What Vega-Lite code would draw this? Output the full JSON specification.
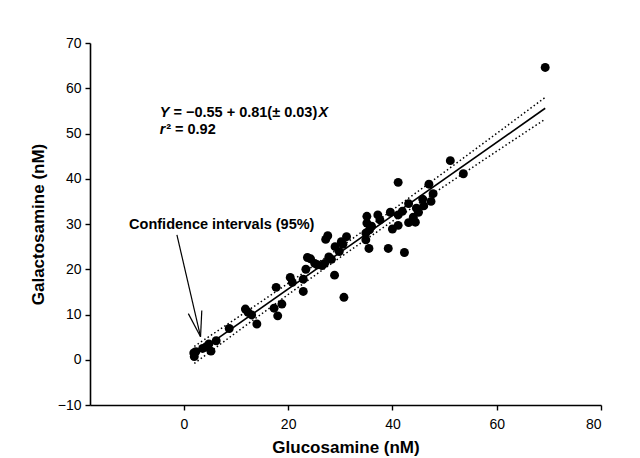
{
  "$schema": "https://vega.github.io/schema/vega-lite/v6.json",
  "width": 511,
  "height": 362,
  "autosize": {"type": "none"},
  "padding": {"left": 90, "top": 43, "right": 39, "bottom": 53},
  "background": "white",
  "config": {
    "view": {"stroke": null},
    "font": "Liberation Sans",
    "axis": {
      "grid": false,
      "domainColor": "black",
      "domainWidth": 1.6,
      "tickColor": "black",
      "tickWidth": 1.4,
      "tickSize": 5,
      "labelColor": "black",
      "labelFont": "Liberation Sans",
      "labelFontSize": 14,
      "titleColor": "black",
      "titleFont": "Liberation Sans",
      "titleFontWeight": "bold"
    }
  },
  "datasets": {
    "pts": [
      {"glc": 69.3, "gal": 64.6}, {"glc": 51.1, "gal": 44.0}, {"glc": 53.6, "gal": 41.1},
      {"glc": 41.1, "gal": 39.2}, {"glc": 47.0, "gal": 38.8}, {"glc": 47.8, "gal": 36.7},
      {"glc": 47.4, "gal": 35.0}, {"glc": 45.8, "gal": 35.5}, {"glc": 43.1, "gal": 34.5},
      {"glc": 44.6, "gal": 33.5}, {"glc": 45.0, "gal": 32.6}, {"glc": 41.9, "gal": 32.8},
      {"glc": 39.6, "gal": 32.6}, {"glc": 37.2, "gal": 32.0}, {"glc": 35.1, "gal": 31.7},
      {"glc": 41.1, "gal": 32.0}, {"glc": 43.1, "gal": 30.3}, {"glc": 44.4, "gal": 30.4},
      {"glc": 40.0, "gal": 28.9}, {"glc": 41.1, "gal": 29.7}, {"glc": 37.6, "gal": 30.9},
      {"glc": 35.1, "gal": 30.2}, {"glc": 35.6, "gal": 28.7}, {"glc": 34.9, "gal": 28.0},
      {"glc": 34.9, "gal": 26.5}, {"glc": 35.5, "gal": 24.6}, {"glc": 39.2, "gal": 24.6},
      {"glc": 42.3, "gal": 23.7}, {"glc": 31.2, "gal": 27.2}, {"glc": 30.2, "gal": 26.1},
      {"glc": 27.6, "gal": 27.4}, {"glc": 27.2, "gal": 26.6}, {"glc": 29.0, "gal": 25.0},
      {"glc": 29.8, "gal": 23.9}, {"glc": 27.8, "gal": 22.7}, {"glc": 27.0, "gal": 21.3},
      {"glc": 25.1, "gal": 21.3}, {"glc": 24.3, "gal": 22.3}, {"glc": 23.7, "gal": 22.6},
      {"glc": 23.4, "gal": 20.0}, {"glc": 22.9, "gal": 17.8}, {"glc": 22.9, "gal": 15.1},
      {"glc": 20.4, "gal": 18.2}, {"glc": 20.8, "gal": 17.1}, {"glc": 28.9, "gal": 18.7},
      {"glc": 30.7, "gal": 13.8}, {"glc": 17.7, "gal": 16.0}, {"glc": 17.3, "gal": 11.4},
      {"glc": 18.8, "gal": 12.3}, {"glc": 18.0, "gal": 9.7}, {"glc": 11.8, "gal": 11.2},
      {"glc": 13.0, "gal": 9.9}, {"glc": 14.0, "gal": 7.9}, {"glc": 8.7, "gal": 6.9},
      {"glc": 6.2, "gal": 4.2}, {"glc": 4.8, "gal": 3.5}, {"glc": 5.2, "gal": 1.9},
      {"glc": 3.6, "gal": 2.5}, {"glc": 2.3, "gal": 1.8}, {"glc": 2.0, "gal": 0.7},
      {"glc": 1.9, "gal": 1.5}, {"glc": 25.6, "gal": 21.0}, {"glc": 26.5, "gal": 20.8},
      {"glc": 28.3, "gal": 22.2}, {"glc": 30.5, "gal": 25.5}, {"glc": 36.0, "gal": 29.5},
      {"glc": 44.0, "gal": 31.5}, {"glc": 46.0, "gal": 34.0}, {"glc": 12.3, "gal": 10.5},
      {"glc": 4.2, "gal": 2.8}
    ],
    "fit": [
      {"glc": 2.0, "gal": 1.07}, {"glc": 69.3, "gal": 55.58}
    ],
    "ci": [
      {"band": "upper", "glc": 2.0, "gal": 2.95}, {"band": "upper", "glc": 10, "gal": 9.10},
      {"band": "upper", "glc": 20, "gal": 16.88}, {"band": "upper", "glc": 30, "gal": 24.85},
      {"band": "upper", "glc": 40, "gal": 33.08}, {"band": "upper", "glc": 50, "gal": 41.50},
      {"band": "upper", "glc": 60, "gal": 50.02}, {"band": "upper", "glc": 69.3, "gal": 57.98},
      {"band": "lower", "glc": 2.0, "gal": -0.81}, {"band": "lower", "glc": 10, "gal": 6.00},
      {"band": "lower", "glc": 20, "gal": 14.42}, {"band": "lower", "glc": 30, "gal": 22.65},
      {"band": "lower", "glc": 40, "gal": 30.62}, {"band": "lower", "glc": 50, "gal": 38.40},
      {"band": "lower", "glc": 60, "gal": 46.08}, {"band": "lower", "glc": 69.3, "gal": 53.18}
    ],
    "arrow": [
      {"x1": -1.33, "y1": 27.6, "x2": 3.2, "y2": 5.1},
      {"x1": 0.86, "y1": 10.2, "x2": 3.2, "y2": 5.1},
      {"x1": 3.44, "y1": 10.9, "x2": 3.2, "y2": 5.1}
    ]
  },
  "layer": [
    {
      "data": {"name": "ci"},
      "mark": {"type": "line", "color": "black", "strokeWidth": 1.5, "strokeDash": [1.5, 2.5], "clip": false},
      "encoding": {
        "x": {"field": "glc", "type": "quantitative",
              "scale": {"domain": [-18, 80], "nice": false, "zero": false},
              "axis": {"values": [0, 20, 40, 60, 80], "title": "Glucosamine (nM)", "titleFontSize": 17, "labelPadding": 7, "titlePadding": 8}},
        "y": {"field": "gal", "type": "quantitative",
              "scale": {"domain": [-10, 70], "nice": false, "zero": false},
              "axis": {"values": [-10, 0, 10, 20, 30, 40, 50, 60, 70], "title": "Galactosamine (nM)", "titleFontSize": 17, "labelPadding": 4, "titlePadding": 10}},
        "detail": {"field": "band", "type": "nominal"}
      }
    },
    {
      "data": {"name": "fit"},
      "mark": {"type": "line", "color": "black", "strokeWidth": 1.6},
      "encoding": {
        "x": {"field": "glc", "type": "quantitative"},
        "y": {"field": "gal", "type": "quantitative"}
      }
    },
    {
      "data": {"name": "pts"},
      "mark": {"type": "point", "filled": true, "color": "black", "opacity": 1, "size": 80},
      "encoding": {
        "x": {"field": "glc", "type": "quantitative"},
        "y": {"field": "gal", "type": "quantitative"}
      }
    },
    {
      "data": {"name": "arrow"},
      "mark": {"type": "rule", "color": "black", "strokeWidth": 1.2},
      "encoding": {
        "x": {"field": "x1", "type": "quantitative"},
        "y": {"field": "y1", "type": "quantitative"},
        "x2": {"field": "x2"},
        "y2": {"field": "y2"}
      }
    },
    {
      "data": {"values": [{"tx": -4.6, "ty": 54.5, "t": "Y"}, {"tx": 25.8, "ty": 54.5, "t": "X"}, {"tx": -4.6, "ty": 50.8, "t": "r"}]},
      "mark": {"type": "text", "align": "left", "baseline": "middle", "fontSize": 14.5, "fontWeight": "bold", "fontStyle": "italic", "color": "black"},
      "encoding": {
        "x": {"field": "tx", "type": "quantitative"},
        "y": {"field": "ty", "type": "quantitative"},
        "text": {"field": "t"}
      }
    },
    {
      "data": {"values": [{"tx": -2.0, "ty": 54.5, "t": "= −0.55 + 0.81(± 0.03)"}, {"tx": -3.4, "ty": 50.8, "t": "² = 0.92"}]},
      "mark": {"type": "text", "align": "left", "baseline": "middle", "fontSize": 14.5, "fontWeight": "bold", "color": "black"},
      "encoding": {
        "x": {"field": "tx", "type": "quantitative"},
        "y": {"field": "ty", "type": "quantitative"},
        "text": {"field": "t"}
      }
    },
    {
      "data": {"values": [{"tx": -10.5, "ty": 29.7, "t": "Confidence intervals (95%)"}]},
      "mark": {"type": "text", "align": "left", "baseline": "middle", "fontSize": 14.5, "fontWeight": "bold", "color": "black"},
      "encoding": {
        "x": {"field": "tx", "type": "quantitative"},
        "y": {"field": "ty", "type": "quantitative"},
        "text": {"field": "t"}
      }
    }
  ]
}
